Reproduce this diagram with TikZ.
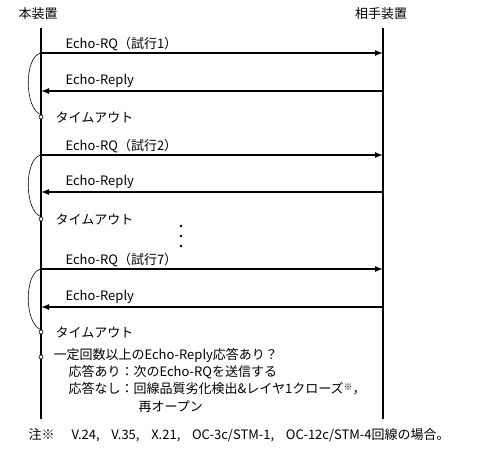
\documentclass[tikz,border=0pt]{standalone}
\usepackage{fontspec}
\setmainfont{Noto Sans CJK JP}
\usetikzlibrary{arrows.meta}

\begin{document}
\begin{tikzpicture}[x=1pt, y=-1pt, >={Latex[length=8pt,width=6pt]}, line width=1.2pt, font=\fontsize{13}{15}\selectfont]
\tikzset{
	lifeline/.style={line width=1.2pt},
	msg/.style={anchor=west, inner sep=0pt},
	loopback/.style={line width=0.6pt},
	tmark/.style={draw, circle, line width=0.6pt, fill=white, inner sep=0pt, minimum size=4pt}
}
\useasboundingbox (0,0) rectangle (486,461);

% Devices and lifelines
\node (self) at (38,14) {本装置};
\node (peer) at (381,14) {相手装置};
\coordinate (selftop) at (41,28);
\coordinate (selfend) at (41,419);
\coordinate (peertop) at (383,28);
\coordinate (peerend) at (383,419);
\draw[lifeline] (selftop) -- (selfend);
\draw[lifeline] (peertop) -- (peerend);

% Echo trials
\foreach \n/\rq/\rp/\to in {1/53/91/117, 2/155/192/219, 7/269/307/332} {
	\coordinate (rqs\n) at (41,\rq);
	\coordinate (rqp\n) at (383,\rq);
	\coordinate (rps\n) at (41,\rp);
	\coordinate (rpp\n) at (383,\rp);
	\draw[->] (rqs\n) -- node[msg, pos=0, xshift=24pt, yshift=9pt] {Echo-RQ（試行\n）} (rqp\n);
	\draw[->] (rpp\n) -- node[msg, pos=1, xshift=24pt, yshift=10pt] {Echo-Reply} (rps\n);
	\node[tmark] (to\n) at (41,\to) {};
	\node[msg] (tolabel\n) at (55,\to) {タイムアウト};
	\draw[loopback] (rqs\n) .. controls +(-17,3) and +(-17,-6) .. (to\n.north);
}

% Omitted trials
\foreach \y in {226,236,246}
	\fill (181,\y) circle (1.3pt);

% Decision
\node[tmark] (judge) at (41,357) {};
\node[msg] (judgelabel) at (53,355) {一定回数以上のEcho-Reply応答あり？};
\node[msg] (okcase) at (68,372) {応答あり：次のEcho-RQを送信する};
\node[msg] (ngcase) at (68,389) {応答なし：回線品質劣化検出\&レイヤ1クローズ{\fontsize{9}{9}\selectfont\raisebox{3pt}{※}}，};
\node[msg] (ngcase2) at (138,407) {再オープン};

% Footnote
\node[msg] (note) at (28,435) {注※\hspace{1.3em}V.24,\hspace{0.9em}V.35,\hspace{0.9em}X.21,\hspace{0.9em}OC-3c/STM-1,\hspace{0.9em}OC-12c/STM-4回線の場合。};

\end{tikzpicture}
\end{document}
